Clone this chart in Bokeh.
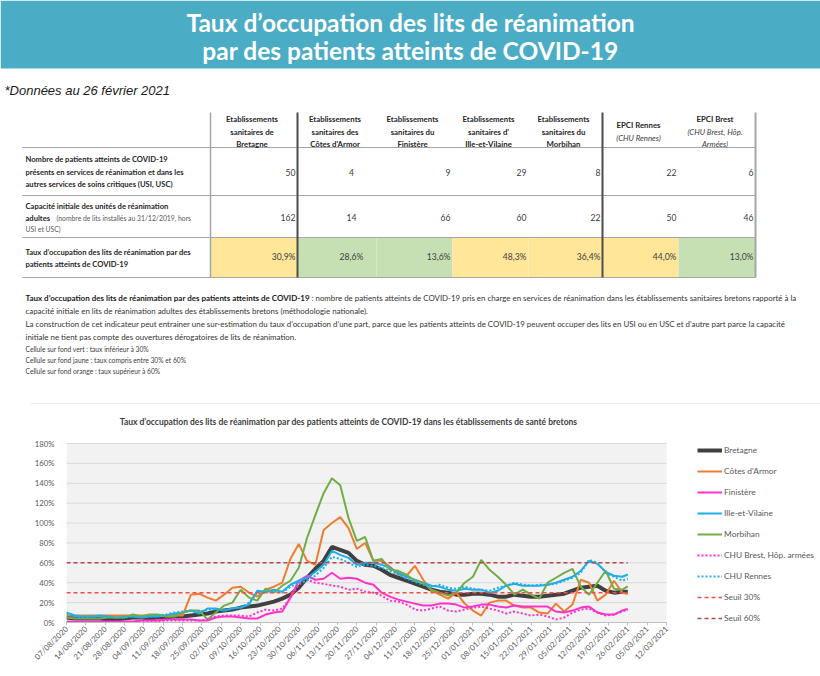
import math
import pandas as pd
from bokeh.plotting import figure
from bokeh.layouts import column
from bokeh.models import (Range1d, FixedTicker, DatetimeTickFormatter, PrintfTickFormatter,
                          Legend, LegendItem)
from bokeh.core.properties import value
from bokeh.embed import file_html
from bokeh.resources import INLINE

# ------------------------------------------------------------------ data
sample_dates = [
    "2020-08-07", "2020-08-10", "2020-08-13", "2020-08-16", "2020-08-19", "2020-08-22",
    "2020-08-25", "2020-08-28", "2020-08-31", "2020-09-03", "2020-09-06", "2020-09-09",
    "2020-09-12", "2020-09-15", "2020-09-18", "2020-09-21", "2020-09-24", "2020-09-27",
    "2020-09-30", "2020-10-03", "2020-10-06", "2020-10-09", "2020-10-12", "2020-10-15",
    "2020-10-18", "2020-10-21", "2020-10-24", "2020-10-27", "2020-10-30", "2020-11-02",
    "2020-11-05", "2020-11-08", "2020-11-11", "2020-11-14", "2020-11-17", "2020-11-20",
    "2020-11-23", "2020-11-26", "2020-11-29", "2020-12-02", "2020-12-05", "2020-12-08",
    "2020-12-11", "2020-12-14", "2020-12-17", "2020-12-20", "2020-12-23", "2020-12-26",
    "2020-12-29", "2021-01-01", "2021-01-04", "2021-01-07", "2021-01-10", "2021-01-13",
    "2021-01-16", "2021-01-19", "2021-01-22", "2021-01-25", "2021-01-28", "2021-01-31",
    "2021-02-03", "2021-02-06", "2021-02-09", "2021-02-12", "2021-02-15", "2021-02-18",
    "2021-02-21", "2021-02-24", "2021-02-26",
]

bretagne = [5, 4, 4, 4, 4, 3, 3, 4, 5, 5, 4, 5, 5, 6,
            6, 7, 8, 9, 11, 12, 13, 15, 16, 17, 19, 21, 24, 28, 35, 45, 54, 62, 76, 73,
            70, 62, 58, 57, 53, 48, 45, 42, 39, 36, 33, 31, 30, 28, 28, 29, 29, 28, 26, 26,
            28, 27, 26, 26, 27, 28, 29, 32, 35, 36, 37, 32, 30, 31, 30.9]
cotes_armor = [7, 7, 7, 7, 7, 7, 7, 7, 7, 7, 7, 7, 7, 7, 7,
               28, 29, 25, 22, 28, 35, 36, 30, 26, 33, 36, 40, 64, 79, 62, 58, 93, 100, 106,
               95, 74, 80, 62, 62, 56, 48, 47, 57, 43, 32, 28, 24, 30, 19, 12, 7, 20, 22, 22,
               17, 15, 15, 10, 9, 19, 11, 18, 43, 40, 22, 28, 42, 30, 28.6]
finistere = [1, 1, 1, 1, 1, 1, 1, 1, 1,
             2, 2, 2, 3, 3, 3, 3, 2, 2, 5, 6, 6, 5, 4, 4, 8, 10, 11, 25, 42, 47, 43, 44, 50,
             44, 45, 44, 40, 38, 30, 26, 23, 21, 19, 17, 17, 19, 19, 18, 15, 16, 18, 18, 16,
             15, 17, 16, 16, 16, 16, 11, 10, 12, 15, 16, 10, 8, 8, 12, 13.6]
ille_vilaine = [10, 7, 6, 6, 7, 6, 5, 6, 6, 5, 6, 6, 7, 9,
                10, 12, 9, 14, 14, 12, 14, 15, 18, 32, 31, 33, 31, 38, 42, 45, 51, 58, 72, 68,
                65, 58, 60, 60, 58, 55, 50, 46, 43, 40, 37, 36, 33, 32, 34, 33, 33, 30, 32, 37,
                39, 37, 37, 37, 38, 40, 43, 46, 52, 62, 59, 51, 47, 46, 48.3]
morbihan = [5, 4, 4, 4, 4, 5, 5, 5, 8, 6, 8, 8, 6, 6,
            10, 12, 12, 3, 10, 17, 20, 33, 25, 22, 34, 30, 37, 42, 55, 85, 108, 130, 145, 138,
            105, 82, 86, 62, 64, 53, 52, 48, 42, 40, 33, 30, 27, 30, 40, 46, 63, 53, 46, 38,
            28, 33, 28, 24, 40, 45, 50, 54, 36, 28, 40, 52, 34, 33, 36.4]
chu_brest = [0, 0, 0, 0, 0, 0, 0, 0, 0,
             1, 1, 1, 2, 2, 2, 2, 2, 3, 6, 7, 7, 7, 6, 10, 13, 12, 14, 25, 38, 43, 40, 39, 37,
             36, 33, 34, 31, 30, 27, 22, 21, 18, 13, 12, 14, 16, 12, 11, 13, 15, 16, 14, 12,
             9, 11, 9, 7, 8, 6, 3, 5, 10, 13, 14, 10, 7, 8, 11, 13]
chu_rennes = [9, 6, 5, 6, 6, 6, 5, 5, 6, 5, 6, 7, 8, 10,
              11, 12, 11, 13, 13, 12, 14, 15, 20, 30, 30, 32, 30, 36, 40, 42, 47, 55, 66, 64,
              60, 56, 58, 57, 55, 52, 48, 44, 41, 38, 36, 38, 35, 34, 36, 34, 33, 32, 35, 37,
              40, 38, 37, 38, 38, 39, 42, 45, 50, 63, 60, 50, 46, 42, 44]
seuil_30 = 30
seuil_60 = 60

tick_labels = [
    "07/08/2020", "14/08/2020", "21/08/2020", "28/08/2020", "04/09/2020", "11/09/2020",
    "18/09/2020", "25/09/2020", "02/10/2020", "09/10/2020", "16/10/2020", "23/10/2020",
    "30/10/2020", "06/11/2020", "13/11/2020", "20/11/2020", "27/11/2020", "04/12/2020",
    "11/12/2020", "18/12/2020", "25/12/2020", "01/01/2021", "08/01/2021", "15/01/2021",
    "22/01/2021", "29/01/2021", "05/02/2021", "12/02/2021", "19/02/2021", "26/02/2021",
    "05/03/2021", "12/03/2021",
]
y_ticks = [0, 20, 40, 60, 80, 100, 120, 140, 160, 180]

series_names = ["Bretagne", "Côtes d'Armor", "Finistère", "Ille-et-Vilaine", "Morbihan",
                "CHU Brest, Hôp. armées", "CHU Rennes"]

# table
table_headers = [
    ["Etablissements", "sanitaires de", "Bretagne"],
    ["Etablissements", "sanitaires des", "Côtes d'Armor"],
    ["Etablissements", "sanitaires du", "Finistère"],
    ["Etablissements", "sanitaires d'", "Ille-et-Vilaine"],
    ["Etablissements", "sanitaires du", "Morbihan"],
    ["EPCI Rennes", "(CHU Rennes)"],
    ["EPCI Brest", "(CHU Brest, Hôp.", "Armées)"],
]
patients = [50, 4, 9, 29, 8, 22, 6]
capacity = [162, 14, 66, 60, 22, 50, 46]
rates = [30.9, 28.6, 13.6, 48.3, 36.4, 44.0, 13.0]

for s in (bretagne, cotes_armor, finistere, ille_vilaine, morbihan, chu_brest, chu_rennes):
    assert len(s) == len(sample_dates)

# ------------------------------------------------------------------ helpers
FONT = "Lato"


def put(fig, x, y, s, size, style="normal", color="#262626", align="left", font=FONT):
    fig.text(x=[x], y=[y], text=[s], text_font=value(font), text_font_size=f"{size}px",
             text_font_style=style, text_color=color, text_align=align,
             text_baseline="middle")


def no_align(fig):
    try:
        fig.frame_align = False
    except Exception:
        pass


# ------------------------------------------------------------------ top figure
TOP_H = 404
top = figure(width=820, height=TOP_H, x_range=Range1d(0, 820), y_range=Range1d(TOP_H, 0),
             x_axis_location=None, y_axis_location=None, toolbar_location=None,
             output_backend="svg", min_border=0, outline_line_color=None,
             background_fill_color="white", border_fill_color="white")
top.grid.visible = False
no_align(top)

# banner
top.quad(left=[0], right=[820], top=[0], bottom=[68], fill_color="#4BACC6", line_color=None)
put(top, 410, 22, "Taux d’occupation des lits de réanimation", 24.5, "bold", "white", "center")
put(top, 410, 50, "par des patients atteints de COVID-19", 24.5, "bold", "white", "center")

put(top, 4, 90, "*Données au 26 février 2021", 13, "italic", "#1a1a1a", "left",
    font="Liberation Sans")

# table geometry
col_edges = [210, 297, 376, 452, 528, 602, 678, 755]
row_lines = [147, 195, 237, 277]
val_x = [295, 351, 450, 526, 600, 676, 753]
val_align = ["right", "center", "right", "right", "right", "right", "right"]


def rate_color(r):
    if r < 30:
        return "#C6E0B4"
    if r <= 60:
        return "#FFE699"
    return "#F8CBAD"


# coloured cells of the rate row
top.quad(left=col_edges[:-1], right=col_edges[1:], top=[row_lines[2]] * 7,
         bottom=[row_lines[3]] * 7, fill_color=[rate_color(r) for r in rates], line_color=None)

# grid lines
top.segment(x0=[22] * 4, x1=[755] * 4, y0=row_lines, y1=row_lines,
            line_color="#A6A6A6", line_width=1)
top.segment(x0=[210], x1=[210], y0=[112], y1=[277], line_color="#A6A6A6", line_width=1.5)
top.segment(x0=[297, 602], x1=[297, 602], y0=[112, 112], y1=[277, 277],
            line_color="#4D4D4D", line_width=2)
top.segment(x0=[755], x1=[755], y0=[112], y1=[277], line_color="#A6A6A6", line_width=2)

# headers
centers = [(col_edges[i] + col_edges[i + 1]) / 2 for i in range(7)]
for i, lines in enumerate(table_headers):
    ys = [124, 137] if len(lines) == 2 else [118, 131, 143]
    for ln, yy in zip(lines, ys):
        italic = ln.startswith("(") or ln == "Armées)"
        put(top, centers[i] - 2, yy, ln, 7.8, "italic" if italic else "bold",
            "#404040" if italic else "#262626", "center")

# row labels
LBL = 7.6
put(top, 25, 158, "Nombre de patients atteints de COVID-19", LBL, "bold")
put(top, 25, 171, "présents en services de réanimation et dans les", LBL, "bold")
put(top, 25, 183, "autres services de soins critiques (USI, USC)", LBL, "bold")
put(top, 25, 205, "Capacité initiale des unités de réanimation", LBL, "bold")
put(top, 25, 217, "adultes", LBL, "bold")
put(top, 56, 217, "(nombre de lits installés au 31/12/2019, hors", 6.8, "normal", "#595959")
put(top, 25, 228, "USI et USC)", 6.8, "normal", "#595959")
put(top, 25, 251, "Taux d’occupation des lits de réanimation par des", LBL, "bold")
put(top, 25, 263, "patients atteints de COVID-19", LBL, "bold")

# values
for i in range(7):
    put(top, val_x[i], 172, str(patients[i]), 8.6, "normal", "#404040", val_align[i])
    put(top, val_x[i], 217, str(capacity[i]), 8.6, "normal", "#404040", val_align[i])
    put(top, val_x[i], 256, f"{rates[i]:.1f}%".replace(".", ","), 8.6, "normal", "#404040",
        val_align[i])

# notes
put(top, 25, 297, "Taux d’occupation des lits de réanimation par des patients atteints de COVID-19",
    8, "bold", "#1a1a1a")
put(top, 311, 297, ": nombre de patients atteints de COVID-19 pris en charge en services de "
    "réanimation dans les établissements sanitaires bretons rapporté à la", 7.9, "normal", "#333333")
put(top, 25, 310, "capacité initiale en lits de réanimation adultes des établissements bretons "
    "(méthodologie nationale).", 7.9, "normal", "#333333")
put(top, 25, 323, "La construction de cet indicateur peut entrainer une sur-estimation du taux "
    "d’occupation d’une part, parce que les patients atteints de COVID-19 peuvent occuper des "
    "lits en USI ou en USC et d’autre part parce la capacité", 7.9, "normal", "#333333")
put(top, 25, 336, "initiale ne tient pas compte des ouvertures dérogatoires de lits de réanimation.",
    7.9, "normal", "#333333")
put(top, 25, 348, "Cellule sur fond vert :  taux inférieur à 30%", 6.7, "normal", "#404040")
put(top, 25, 359, "Cellule sur fond jaune : taux compris entre 30% et 60%", 6.7, "normal", "#404040")
put(top, 25, 370, "Cellule sur fond orange : taux supérieur à 60%", 6.7, "normal", "#404040")

# top edge of the chart box
top.segment(x0=[30], x1=[820], y0=[403.5], y1=[403.5], line_color="#D9D9D9", line_width=1)
top.segment(x0=[30.5], x1=[30.5], y0=[403.5], y1=[404], line_color="#D9D9D9", line_width=1)

# ------------------------------------------------------------------ chart
CH_H = 676 - TOP_H          # 272
LEFT, BOTTOM = 66, 54
PLOT_W = 600                # pixel width covered by the date axis
FRAME_W = 820 - LEFT        # frame extends to the right edge (legend lives there)
FRAME_H = CH_H - BOTTOM     # 218 ; 180 % spans 179 px

x = pd.to_datetime(sample_dates)
tick_dt = pd.to_datetime(tick_labels, format="%d/%m/%Y")
tick_ms = [float(v) for v in (tick_dt.astype("int64") // 10**6)]
first_ms, last_ms = tick_ms[0], tick_ms[-1]
span_ms = last_ms - first_ms
x_end = first_ms + span_ms * FRAME_W / PLOT_W
y_end = FRAME_H * 180 / 179

chart = figure(width=820, height=CH_H, x_axis_type="datetime",
               x_range=Range1d(start=first_ms, end=x_end), y_range=Range1d(0, y_end),
               toolbar_location=None, output_backend="svg",
               min_border_left=LEFT, min_border_right=0, min_border_top=0,
               min_border_bottom=BOTTOM, background_fill_color="white",
               border_fill_color="white", outline_line_color=None)
no_align(chart)

chart.xaxis.ticker = FixedTicker(ticks=tick_ms)
chart.xaxis.formatter = DatetimeTickFormatter(days="%d/%m/%Y", months="%d/%m/%Y",
                                              years="%d/%m/%Y")
chart.xaxis.bounds = (first_ms, last_ms)
chart.xaxis.major_label_orientation = math.pi / 4
chart.xaxis.major_label_text_font = FONT
chart.xaxis.major_label_text_font_size = "7.8px"
chart.xaxis.major_label_text_color = "#595959"
chart.xaxis.major_label_standoff = 2
chart.xaxis.axis_line_color = "#BFBFBF"
chart.xaxis.major_tick_line_color = "#BFBFBF"
chart.xaxis.major_tick_in = 0
chart.xaxis.major_tick_out = 3
chart.xaxis.minor_tick_line_color = None

chart.yaxis.ticker = FixedTicker(ticks=y_ticks)
chart.yaxis.formatter = PrintfTickFormatter(format="%d%%")
chart.yaxis.bounds = (0, 180)
chart.yaxis.major_label_text_font = FONT
chart.yaxis.major_label_text_font_size = "7.8px"
chart.yaxis.major_label_text_color = "#595959"
chart.yaxis.axis_line_color = None
chart.yaxis.major_tick_line_color = None
chart.yaxis.minor_tick_line_color = None
chart.yaxis.major_label_standoff = 6

chart.xgrid.grid_line_color = None
chart.ygrid.grid_line_color = None

# plot area background and horizontal grid lines (limited to the date axis extent)
chart.quad(left=[first_ms], right=[last_ms], bottom=[y_ticks[0]], top=[y_ticks[-1]],
           fill_color="#F2F2F2", line_color=None)
chart.segment(x0=[first_ms] * (len(y_ticks) - 1), x1=[last_ms] * (len(y_ticks) - 1),
              y0=y_ticks[1:], y1=y_ticks[1:], line_color="#D9D9D9", line_width=1)

styles = [
    (bretagne, "#404040", 4, "solid"),
    (cotes_armor, "#ED7D31", 2, "solid"),
    (finistere, "#FF33CC", 2, "solid"),
    (ille_vilaine, "#1FAEE8", 2, "solid"),
    (morbihan, "#70AD47", 2, "solid"),
    (chu_brest, "#FF33CC", 2, "2 2"),
    (chu_rennes, "#1FAEE8", 2, "2 2"),
]
items = []
for name, (vals, col, w, dash) in zip(series_names, styles):
    r = chart.line(x=x, y=vals, line_color=col, line_width=w, line_dash=dash)
    items.append(LegendItem(label=name, renderers=[r]))

thr_x = [x[0], x[-1]]
r30 = chart.line(x=thr_x, y=[seuil_30, seuil_30], line_color="#F04E4E", line_width=1.5,
                 line_dash="4 3")
r60 = chart.line(x=thr_x, y=[seuil_60, seuil_60], line_color="#B8474B", line_width=1.5,
                 line_dash="4 3")
items.append(LegendItem(label="Seuil 30%", renderers=[r30]))
items.append(LegendItem(label="Seuil 60%", renderers=[r60]))

legend = Legend(items=items, location=(631, -2), orientation="vertical",
                glyph_width=25, glyph_height=12, label_height=12, spacing=9,
                padding=0, margin=0, border_line_alpha=0, background_fill_alpha=0,
                label_text_font=FONT, label_text_font_size="8.4px",
                label_text_color="#595959", label_standoff=2)
chart.add_layout(legend)

# chart title (centred above the plot area)
title_x = first_ms + span_ms * 282 / PLOT_W
title_y = 180 + 22 * 180 / 179
chart.text(x=[title_x], y=[title_y],
           text=["Taux d’occupation des lits de réanimation par des patients atteints de "
                 "COVID-19 dans les établissements de santé bretons"],
           text_font=value(FONT), text_font_size="8.5px", text_font_style="bold",
           text_color="#404040", text_align="center", text_baseline="middle")

layout = column(top, chart, spacing=0)
open("out.html", "w").write(file_html(layout, INLINE))
